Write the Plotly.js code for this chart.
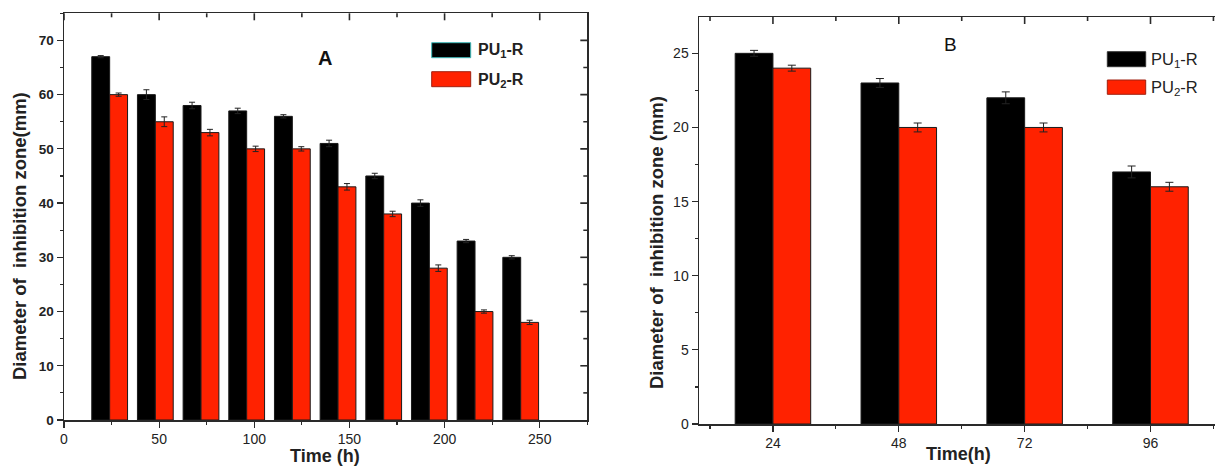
<!DOCTYPE html>
<html>
<head>
<meta charset="utf-8">
<script src="https://cdn.plot.ly/plotly-3.0.1.min.js"></script>
<style>
  html, body { margin: 0; padding: 0; background: #ffffff; }
  #chart { width: 1215px; height: 466px; }
</style>
</head>
<body>
<div id="chart"></div>
<script>
// Panel A: inhibition zone diameter over 10 days of release
const timesA = [24, 48, 72, 96, 120, 144, 168, 192, 216, 240];
const pu1A = [67, 60, 58, 57, 56, 51, 45, 40, 33, 30];
const pu1ErrA = [0.2, 0.9, 0.6, 0.5, 0.3, 0.6, 0.5, 0.6, 0.3, 0.3];
const pu2A = [60, 55, 53, 50, 50, 43, 38, 28, 20, 18];
const pu2ErrA = [0.3, 0.9, 0.6, 0.5, 0.4, 0.6, 0.5, 0.6, 0.3, 0.4];

// Panel B: inhibition zone diameter over 4 days
const timesB = [24, 48, 72, 96];
const pu1B = [25, 23, 22, 17];
const pu1ErrB = [0.2, 0.3, 0.4, 0.4];
const pu2B = [24, 20, 20, 16];
const pu2ErrB = [0.2, 0.3, 0.3, 0.3];

const seriesNames = ['PU<sub>1</sub>-R', 'PU<sub>2</sub>-R'];
const xTickValsA = [0, 50, 100, 150, 200, 250];
const xMinorValsA = [25, 75, 125, 175, 225, 275];
const yTickValsA = [0, 10, 20, 30, 40, 50, 60, 70];
const yMinorValsA = [5, 15, 25, 35, 45, 55, 65, 75];
const xTickValsB = [24, 48, 72, 96];
const xMinorValsB = [12, 36, 60, 84, 108];

const W = 1215, H = 466;
const px = x => x / W;
const py = y => 1 - y / H;

const BLACK = '#000000';
const RED = '#ff2200';
const AXIS = '#2a2a2a';
const FONT = 'Liberation Sans, Arial, sans-serif';

function barTrace(x, y, err, color, xa, ya, width, offset, capw) {
  return {
    type: 'bar', x: x, y: y, xaxis: xa, yaxis: ya,
    width: width, offset: offset,
    marker: { color: color, line: { color: '#1a1a1a', width: 1 } },
    error_y: { type: 'data', array: err, visible: true, color: '#222222', thickness: 1, width: capw },
    showlegend: false, hoverinfo: 'x+y'
  };
}

const wA = 9.4, wB = 7.2;
const data = [
  barTrace(timesA, pu1A, pu1ErrA, BLACK, 'x', 'y', wA, -wA, 3),
  barTrace(timesA, pu2A, pu2ErrA, RED, 'x', 'y', wA, 0, 3),
  barTrace(timesB, pu1B, pu1ErrB, BLACK, 'x2', 'y2', wB, -wB, 4),
  barTrace(timesB, pu2B, pu2ErrB, RED, 'x2', 'y2', wB, 0, 4)
];

const boldTick = { family: FONT, size: 13.5, color: '#222222', weight: 'bold' };
const plainTick = { family: FONT, size: 14, color: '#222222' };

const pxA = [64, 587.3], pyA = [420, 13.3];
const pxB = [699, 1215], pyB = [424, 17];
const domAx = [px(pxA[0]), px(pxA[1])];
const domAy = [py(pyA[0]), py(pyA[1])];
const domBx = [px(pxB[0]), 1];
const domBy = [py(pyB[0]), py(pyB[1])];

const baseAxis = {
  showgrid: false, zeroline: false, showline: true, linecolor: AXIS, linewidth: 1.5,
  ticks: 'outside', ticklen: 6, tickwidth: 1.2, tickcolor: AXIS, fixedrange: true
};

// inward ticks on the top / right frame lines (frame position in paper units)
function topTicks(vals, xa, topPx, len) {
  return vals.map(v => ({
    type: 'line', layer: 'above', xref: xa, yref: 'paper',
    x0: v, x1: v, y0: py(topPx), y1: py(topPx + len), line: { color: AXIS, width: 1.6 }
  }));
}
function rightTicks(vals, ya, rightPx, len) {
  return vals.map(v => ({
    type: 'line', layer: 'above', xref: 'paper', yref: ya,
    x0: px(rightPx), x1: px(rightPx - len), y0: v, y1: v, line: { color: AXIS, width: 1.6 }
  }));
}

const legendShapes = [
  // legend swatches, panel A
  { type: 'rect', xref: 'paper', yref: 'paper', x0: px(431.7), x1: px(470.7), y0: py(57.7), y1: py(42.7),
    fillcolor: BLACK, line: { color: '#3fb8b8', width: 1 } },
  { type: 'rect', xref: 'paper', yref: 'paper', x0: px(431.7), x1: px(470.7), y0: py(86.7), y1: py(71.7),
    fillcolor: RED, line: { color: '#a02010', width: 1 } },
  // legend swatches, panel B
  { type: 'rect', xref: 'paper', yref: 'paper', x0: px(1107.3), x1: px(1145.7), y0: py(66.7), y1: py(51.7),
    fillcolor: BLACK, line: { color: '#333333', width: 1 } },
  { type: 'rect', xref: 'paper', yref: 'paper', x0: px(1107.3), x1: px(1145.7), y0: py(94.3), y1: py(80),
    fillcolor: RED, line: { color: '#a02010', width: 1 } }
];

const layout = {
  width: W, height: H,
  margin: { l: 0, r: 0, t: 0, b: 0, pad: 0 },
  paper_bgcolor: '#ffffff', plot_bgcolor: '#ffffff',
  barmode: 'overlay',
  showlegend: false,
  font: { family: FONT, color: '#222222' },
  xaxis: Object.assign({}, baseAxis, {
    domain: domAx, anchor: 'y', range: [0, 275], mirror: true,
    tickmode: 'array', tickvals: xTickValsA, tickfont: plainTick,
    minor: { tickmode: 'array', tickvals: xMinorValsA, ticks: 'outside', ticklen: 3, tickcolor: AXIS }
  }),
  yaxis: Object.assign({}, baseAxis, {
    domain: domAy, anchor: 'x', range: [0, 75], mirror: true,
    tickmode: 'array', tickvals: yTickValsA, tickfont: boldTick,
    minor: { tickmode: 'array', tickvals: yMinorValsA, ticks: 'outside', ticklen: 3, tickcolor: AXIS }
  }),
  xaxis2: Object.assign({}, baseAxis, {
    domain: domBx, anchor: 'y2', range: [9.9, 108.3], mirror: true,
    tickmode: 'array', tickvals: xTickValsB, tickfont: plainTick,
    minor: { tickmode: 'array', tickvals: xMinorValsB, ticks: 'outside', ticklen: 3, tickcolor: AXIS }
  }),
  yaxis2: Object.assign({}, baseAxis, {
    domain: domBy, anchor: 'x2', range: [0, 27.45], mirror: false,
    dtick: 5, tick0: 0, tickfont: plainTick,
    minor: { dtick: 2.5, ticks: 'outside', ticklen: 3, tickcolor: AXIS }
  }),
  shapes: [].concat(
    topTicks(xTickValsA, 'x', pyA[1], 7),
    topTicks(xMinorValsA.slice(0, -1), 'x', pyA[1], 4),
    rightTicks(yTickValsA.slice(1), 'y', pxA[1], 7),
    rightTicks(yMinorValsA.slice(0, -1), 'y', pxA[1], 4),
    topTicks(xTickValsB, 'x2', pyB[1], 7),
    topTicks(xMinorValsB, 'x2', pyB[1], 4),
    legendShapes
  ),
  annotations: [
    // legend labels
    { xref: 'paper', yref: 'paper', x: px(476), y: py(51), xanchor: 'left', yanchor: 'middle', showarrow: false,
      text: '<b>' + seriesNames[0] + '</b>', font: { family: FONT, size: 16, color: '#222222' } },
    { xref: 'paper', yref: 'paper', x: px(476), y: py(80), xanchor: 'left', yanchor: 'middle', showarrow: false,
      text: '<b>' + seriesNames[1] + '</b>', font: { family: FONT, size: 16, color: '#222222' } },
    { xref: 'paper', yref: 'paper', x: px(1149), y: py(60), xanchor: 'left', yanchor: 'middle', showarrow: false,
      text: seriesNames[0], font: { family: FONT, size: 16.5, color: '#222222' } },
    { xref: 'paper', yref: 'paper', x: px(1149), y: py(88), xanchor: 'left', yanchor: 'middle', showarrow: false,
      text: seriesNames[1], font: { family: FONT, size: 16.5, color: '#222222' } },
    // panel letters
    { xref: 'paper', yref: 'paper', x: px(325), y: py(58), xanchor: 'center', yanchor: 'middle', showarrow: false,
      text: '<b>A</b>', font: { family: FONT, size: 20, color: '#111111' } },
    { xref: 'paper', yref: 'paper', x: px(951), y: py(45), xanchor: 'center', yanchor: 'middle', showarrow: false,
      text: 'B', font: { family: FONT, size: 19, color: '#111111' } },
    // axis titles
    { xref: 'paper', yref: 'paper', x: px(325), y: py(456), xanchor: 'center', yanchor: 'middle', showarrow: false,
      text: '<b>Time (h)</b>', font: { family: FONT, size: 18, color: '#222222' } },
    { xref: 'paper', yref: 'paper', x: px(19), y: py(236), xanchor: 'center', yanchor: 'middle', showarrow: false,
      textangle: -90, text: '<b>Diameter of  inhibition zone(mm)</b>', font: { family: FONT, size: 18.5, color: '#222222' } },
    { xref: 'paper', yref: 'paper', x: px(958), y: py(454), xanchor: 'center', yanchor: 'middle', showarrow: false,
      text: '<b>Time(h)</b>', font: { family: FONT, size: 18, color: '#222222' } },
    { xref: 'paper', yref: 'paper', x: px(656), y: py(243), xanchor: 'center', yanchor: 'middle', showarrow: false,
      textangle: -90, text: '<b>Diameter of  inhibition zone (mm)</b>', font: { family: FONT, size: 18.5, color: '#222222' } }
  ]
};

Plotly.newPlot('chart', data, layout, { staticPlot: true, displayModeBar: false });
</script>
</body>
</html>
